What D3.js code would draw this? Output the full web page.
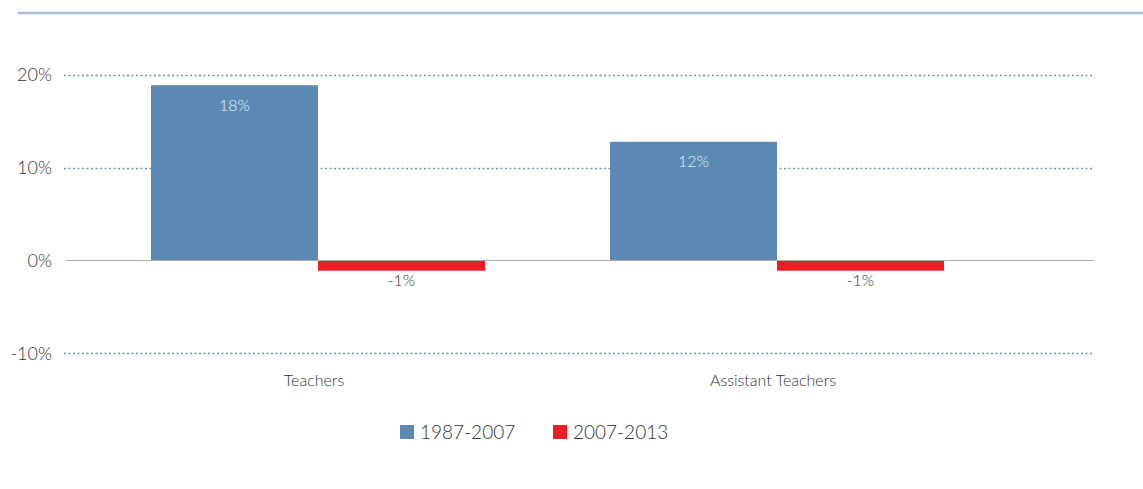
<!DOCTYPE html>
<html>
<head>
<meta charset="utf-8">
<script src="https://cdn.jsdelivr.net/npm/d3@7"></script>
<style>
  body { margin: 0; background: #fff; }
  svg text { font-family: "Gill Sans", Lato, "Open Sans", sans-serif; font-weight: 300; }
</style>
</head>
<body>
<svg id="chart" width="1143" height="489"></svg>
<script>
const categories = ["Teachers", "Assistant Teachers"];
const seriesNames = ["1987-2007", "2007-2013"];
const seriesColors = ["#5b89b4", "#ee1c25"];
// values, labels as printed
const values1987 = [18.9, 12.8];
const values2007 = [-1.1, -1.1];
const labels1987 = ["18%", "12%"];
const labels2007 = ["-1%", "-1%"];
const yTicks = [-10, 0, 10, 20];

const svg = d3.select("#chart");

// top rule
svg.append("line")
  .attr("x1", 18).attr("x2", 1143).attr("y1", 13).attr("y2", 13)
  .attr("stroke", "#a7bbd6").attr("stroke-width", 2.5);

const y = d3.scaleLinear().domain([0, 20]).range([260.5, 75]);
const x = d3.scaleBand().domain(categories).range([88.5, 1006.5]);
const sub = d3.scaleBand().domain(seriesNames).range([x.bandwidth() / 2 - 167, x.bandwidth() / 2 + 167]);

// gridlines
svg.append("g").selectAll("line")
  .data(yTicks.filter(d => d !== 0))
  .join("line")
  .attr("x1", 64).attr("x2", 1094)
  .attr("y1", d => Math.round(y(d)) + 0.5).attr("y2", d => Math.round(y(d)) + 0.5)
  .attr("stroke", "#6a95c0").attr("stroke-width", 1.5)
  .attr("stroke-dasharray", "2,2.5");

// tick labels
svg.append("g").selectAll("text")
  .data(yTicks)
  .join("text")
  .attr("x", 52).attr("y", d => y(d))
  .attr("dy", "0.35em")
  .attr("text-anchor", "end")
  .attr("font-size", 18)
  .attr("fill", "#333")
  .text(d => d + "%");

const rows = categories.map((c, i) => [
  { cat: c, key: seriesNames[0], v: values1987[i], label: labels1987[i], color: seriesColors[0] },
  { cat: c, key: seriesNames[1], v: values2007[i], label: labels2007[i], color: seriesColors[1] }
]).flat();

svg.append("g").selectAll("rect")
  .data(rows)
  .join("rect")
  .attr("x", d => x(d.cat) + sub(d.key))
  .attr("width", sub.bandwidth())
  .attr("y", d => y(Math.max(0, d.v)))
  .attr("height", d => Math.abs(y(d.v) - y(0)))
  .attr("fill", d => d.color);

// zero line
svg.append("line")
  .attr("x1", 66).attr("x2", 1094)
  .attr("y1", y(0)).attr("y2", y(0))
  .attr("stroke", "#aaa").attr("stroke-width", 1);

// data labels
svg.append("g").selectAll("text")
  .data(rows)
  .join("text")
  .attr("x", d => x(d.cat) + sub(d.key) + sub.bandwidth() / 2)
  .attr("y", d => d.v >= 0 ? y(d.v) + 20 : y(d.v) + 10)
  .attr("dy", "0.35em")
  .attr("text-anchor", "middle")
  .attr("font-size", 16)
  .attr("fill", d => d.v >= 0 ? "#e4ecf4" : "#333")
  .text(d => d.label);

// category labels
svg.append("g").selectAll("text")
  .data(categories)
  .join("text")
  .attr("x", d => x(d) + x.bandwidth() / 2 - 4)
  .attr("y", 380)
  .attr("dy", "0.35em")
  .attr("text-anchor", "middle")
  .attr("font-size", 16)
  .attr("fill", "#333")
  .text(d => d);

// legend
const legendX = [400, 553];
const legend = svg.append("g").selectAll("g")
  .data(seriesNames)
  .join("g")
  .attr("transform", (d, i) => `translate(${legendX[i]},425)`);
legend.append("rect")
  .attr("width", 14).attr("height", 14)
  .attr("fill", (d, i) => seriesColors[i]);
legend.append("text")
  .attr("x", 20).attr("y", 7)
  .attr("dy", "0.35em")
  .attr("font-size", 19)
  .attr("fill", "#333")
  .text(d => d);
</script>
</body>
</html>
